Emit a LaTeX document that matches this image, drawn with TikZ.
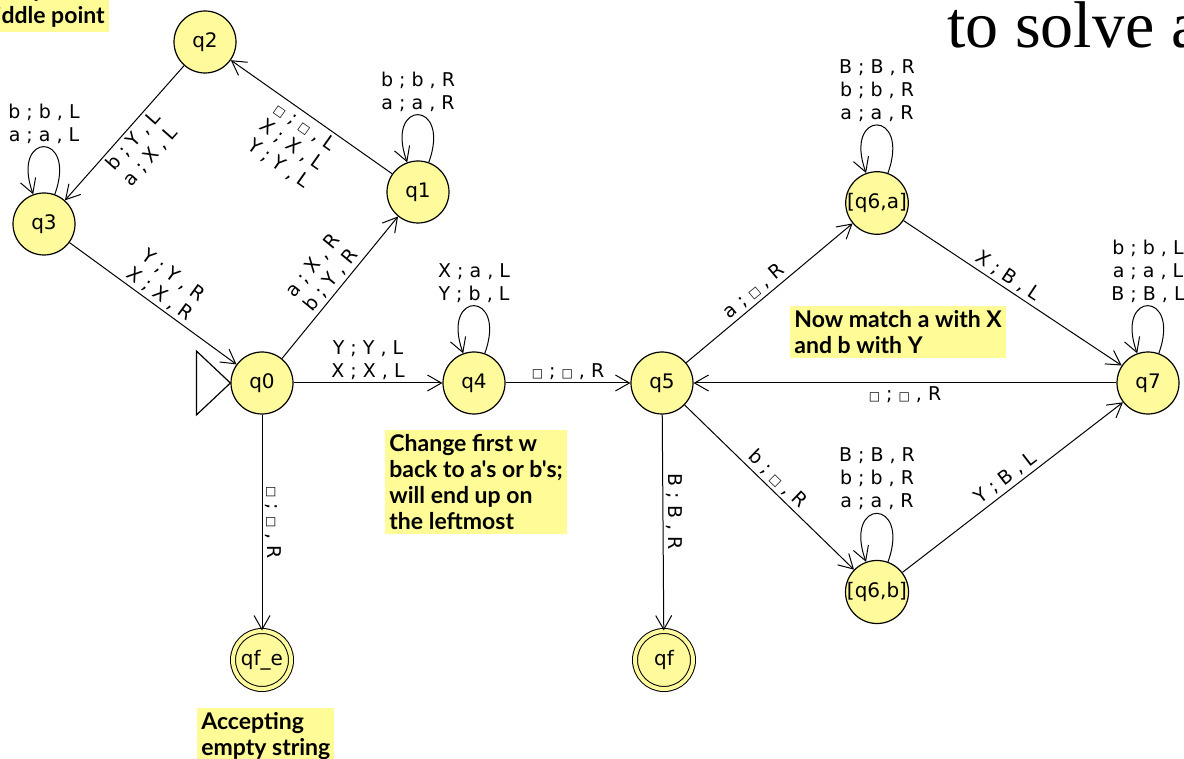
\documentclass[tikz,border=0pt]{standalone}
\usepackage{fontspec}
\setmainfont{DejaVu Sans}
\newfontfamily\notefont{Lato}
\newfontfamily\slidefont{Liberation Serif}
\usetikzlibrary{arrows.meta}
\definecolor{stateyellow}{RGB}{255,250,155}
\definecolor{noteyellow}{RGB}{255,251,150}
\tikzstyle{tmstate} = [circle, minimum size=31pt, inner sep=0pt, draw=black, line width=0.6pt, fill=stateyellow, font=\fontsize{10}{12}\selectfont]
\tikzstyle{accept}  = [tmstate, minimum size=29pt, line width=0.5pt, double=stateyellow, double distance=2pt]
\tikzstyle{note}    = [fill=noteyellow, align=left, inner sep=2pt, font=\notefont\bfseries\fontsize{11.5}{13}\selectfont]
\tikzstyle{trans}   = [font=\fontsize{9.5}{11.5}\selectfont, align=center, inner sep=1.5pt]
\tikzstyle{arrow}   = [line width=0.5pt, ->, >={Straight Barb[length=7pt,width=8pt]}]
\tikzstyle{selfloop} = [arrow, out=70, in=110, looseness=8]
\newcommand{\blk}{{\fontsize{6}{6}\selectfont □}}

\begin{document}
\begin{tikzpicture}[x=0.5pt, y=-0.5pt]

    \useasboundingbox (0,0) rectangle (1184,759);
    \clip (0,0) rectangle (1184,759);

    \node (q2)  [tmstate] at (205,42)  {q2};
    \node (q3)  [tmstate] at (44,224)  {q3};
    \node (q1)  [tmstate] at (418,192) {q1};
    \node (q0)  [tmstate] at (262,383) {q0};
    \node (q4)  [tmstate] at (474,383) {q4};
    \node (q5)  [tmstate] at (662,383) {q5};
    \node (q6a) [tmstate] at (877,203) {[q6,a]};
    \node (q7)  [tmstate] at (1148,383) {q7};
    \node (q6b) [tmstate] at (877,592) {[q6,b]};
    \node (qfe) [accept]  at (262,660) {qf\_e};
    \node (qf)  [accept]  at (664,660) {qf};

    % start marker on q0
    \draw [line width=0.6pt, fill=white] (q0.west) -- ++(-34,-32) -- ++(0,64) -- cycle;

    \draw [arrow] (q2) -- node[trans, sloped, below] {b ; Y , L\\a ; X , L} (q3);
    \draw [arrow] (q1) -- node[trans, sloped, below] {\blk{} ; \blk{} , L\\X ; X , L\\Y ; Y , L} (q2);
    \draw [arrow] (q3) -- node[trans, sloped, above, pos=0.5] {Y ; Y , R\\X ; X , R} (q0);
    \draw [arrow] (q0) -- node[trans, sloped, above, pos=0.5] {a ; X , R\\b ; Y , R} (q1);
    \draw [arrow] (q0) -- node[trans, above] {Y ; Y , L\\X ; X , L} (q4);
    \draw [arrow] (q4) -- node[trans, above] {\blk{} ; \blk{} , R} (q5);
    \draw [arrow] (q0) -- node[trans, rotate=-90, anchor=south] {\blk{} ; \blk{} , R} (qfe);
    \draw [arrow] (q5) -- node[trans, rotate=-90, anchor=south, pos=0.45] {B ; B , R} (qf);
    \draw [arrow] (q5) -- node[trans, sloped, above, pos=0.45] {a ; \blk{} , R} (q6a);
    \draw [arrow] (q6a) -- node[trans, sloped, above, pos=0.45] {X ; B , L} (q7);
    \draw [arrow] (q5) -- node[trans, sloped, above, pos=0.5] {b ; \blk{} , R} (q6b);
    \draw [arrow] (q6b) -- node[trans, sloped, above, pos=0.5] {Y ; B , L} (q7);
    \draw [arrow] (q7) -- node[trans, below] {\blk{} ; \blk{} , R} (q5);

    % self loops
    \draw [selfloop] (q3) to node[trans, above] {b ; b , L\\a ; a , L} (q3);
    \draw [selfloop] (q1) to node[trans, above] {b ; b , R\\a ; a , R} (q1);
    \draw [selfloop] (q4) to node[trans, above] {X ; a , L\\Y ; b , L} (q4);
    \draw [selfloop] (q6a) to node[trans, above] {B ; B , R\\b ; b , R\\a ; a , R} (q6a);
    \draw [selfloop] (q6b) to node[trans, above] {B ; B , R\\b ; b , R\\a ; a , R} (q6b);
    \draw [selfloop] (q7) to node[trans, above] {b ; b , L\\a ; a , L\\B ; B , L} (q7);

    % notes
    \node (notemid)    [note, anchor=south west] at (-28,32)  {end up on\\middle point};
    \node (noteback)   [note, anchor=north west] at (385,430) {Change first w\\back to a's or b's;\\will end up on\\the leftmost};
    \node (notematch)  [note, anchor=north west] at (790,306) {Now match a with X\\and b with Y};
    \node (noteempty)  [note, anchor=north west] at (197,708) {Accepting\\empty string};

    \node (slidetitle) [anchor=base west, inner sep=0pt, font=\slidefont\fontsize{33}{33}\selectfont] at (947,48) {to solve a};

\end{tikzpicture}
\end{document}
